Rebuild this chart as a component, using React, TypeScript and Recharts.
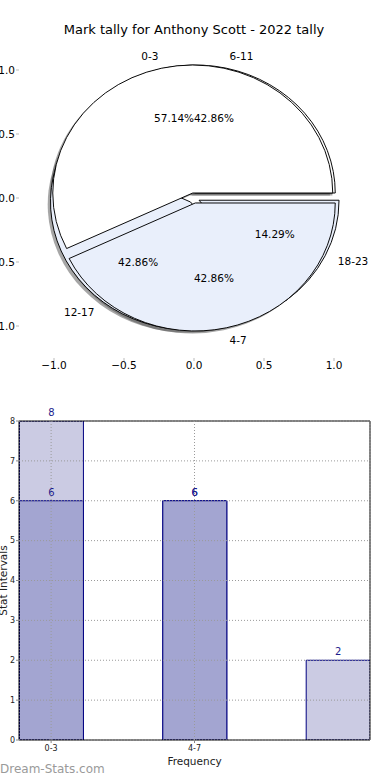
import React from "react";
import {
  PieChart,
  Pie,
  Cell,
  ScatterChart,
  Scatter,
  XAxis,
  YAxis,
  BarChart,
  Bar,
  CartesianGrid,
  LabelList,
} from "recharts";

const title = "Mark tally for Anthony Scott - 2022 tally";

// the pie drawn underneath
const lowerNames = ["6-11", "12-17", "18-23"];
const lowerValues = [3, 3, 1];
const lowerFills = ["#ffffff", "#e9effb", "#e9effb"];

// the pie drawn on top
const upperNames = ["0-3", "4-7"];
const upperValues = [4, 3];
const upperFills = ["#ffffff", "#e9effb"];

const pieTicks = [-1, -0.5, 0, 0.5, 1];

const barCategories = ["0-3", "4-7", ""];
const barTickLabels = ["0-3", "4-7"];
const backValues = [8, 6, 2];
const frontValues: (number | null)[] = [6, 6, null];
const barTicks = [0, 1, 2, 3, 4, 5, 6, 7, 8];

const CX = 194;
const CY = 198;
const R = 140;
const K = 128 / 140; // pie axes are not square
const EXPLODE = 0.04;
const SHADOW = 0.02;
const NAVY = "#000080";
const BAR_DOMAIN: [number, number] = [-0.224, 2.224];
const BAR_MARGIN = { top: 20, right: 20, bottom: 0, left: 0 };
const blank = () => "";

const fmt = (v: number) => (v < 0 ? "\u2212" : "") + Math.abs(v).toFixed(1);

function midAngles(values: number[]) {
  const total = values.reduce((a, b) => a + b, 0);
  let acc = 0;
  return values.map((v) => {
    const m = ((acc + v / 2) / total) * 2 * Math.PI;
    acc += v;
    return m;
  });
}

function wedge(
  names: string[],
  values: number[],
  fills: string[],
  i: number,
  shadow: boolean,
  key: string
) {
  const data = names.map((n, j) => ({ name: n, value: values[j] }));
  const mid = midAngles(values)[i];
  let cx = CX + EXPLODE * R * Math.cos(mid);
  let cy = CY - EXPLODE * R * Math.sin(mid);
  if (shadow) {
    cx -= SHADOW * R;
    cy += SHADOW * R;
  }
  return (
    <Pie
      key={key}
      data={data}
      dataKey="value"
      nameKey="name"
      cx={cx}
      cy={cy}
      innerRadius={0}
      outerRadius={R}
      startAngle={0}
      endAngle={360}
      label={false}
      labelLine={false}
      isAnimationActive={false}
    >
      {data.map((_, j) => (
        <Cell
          key={j}
          fill={j === i ? (shadow ? "#4d4d4d" : fills[j]) : "none"}
          fillOpacity={shadow ? 0.5 : 1}
          stroke={j === i && !shadow ? "#000" : "none"}
          strokeWidth={1}
        />
      ))}
    </Pie>
  );
}

const makeLabel = (names: string[], values: number[]) => (props: any) => {
  const { cx, cy, midAngle, outerRadius, index } = props;
  const total = values.reduce((a, b) => a + b, 0);
  const a = (midAngle * Math.PI) / 180;
  const c = Math.cos(a);
  const s = Math.sin(a);
  const lx = cx + (1.1 + EXPLODE) * outerRadius * c;
  const ly = cy - (1.1 + EXPLODE) * outerRadius * K * s;
  const px = cx + (0.6 + EXPLODE) * outerRadius * c;
  const py = cy - (0.6 + EXPLODE) * outerRadius * K * s;
  return (
    <g key={"l" + index}>
      <text
        x={lx}
        y={ly}
        textAnchor={c > 0 ? "start" : "end"}
        dominantBaseline="central"
        fontSize={10.5}
        fill="#000"
      >
        {names[index]}
      </text>
      <text
        x={px}
        y={py}
        textAnchor="middle"
        dominantBaseline="central"
        fontSize={10.5}
        fill="#000"
      >
        {((values[index] / total) * 100).toFixed(2) + "%"}
      </text>
    </g>
  );
};

const barRows = barCategories.map((name, i) => ({
  x: i,
  name,
  back: backValues[i],
  front: frontValues[i],
}));

export default function App() {
  const shadows = [
    ...lowerValues.map((_, i) =>
      wedge(lowerNames, lowerValues, lowerFills, i, true, "sl" + i)
    ),
    ...upperValues.map((_, i) =>
      wedge(upperNames, upperValues, upperFills, i, true, "su" + i)
    ),
  ];
  const wedges = [
    ...lowerValues.map((_, i) =>
      wedge(lowerNames, lowerValues, lowerFills, i, false, "wl" + i)
    ),
    ...upperValues.map((_, i) =>
      wedge(upperNames, upperValues, upperFills, i, false, "wu" + i)
    ),
  ];

  return (
    <div
      style={{
        position: "absolute",
        left: 0,
        top: 0,
        width: 390,
        height: 780,
        background: "#fff",
        fontFamily: "'DejaVu Sans', sans-serif",
        overflow: "hidden",
      }}
    >
      <div
        style={{
          position: "absolute",
          top: 22,
          left: 0,
          width: 388,
          textAlign: "center",
          fontSize: 13,
          lineHeight: "15px",
          color: "#000",
        }}
      >
        {title}
      </div>

      {/* pie axes */}
      <div style={{ position: "absolute", left: 0, top: 0 }}>
        <ScatterChart
          width={390}
          height={400}
          margin={{ top: 38, right: 21, bottom: 0, left: 0 }}
        >
          <XAxis
            xAxisId="xb"
            type="number"
            dataKey="x"
            domain={[-1.25, 1.25]}
            ticks={pieTicks}
            interval={0}
            allowDataOverflow
            orientation="bottom"
            height={42}
            axisLine={false}
            tickSize={3}
            tickMargin={1}
            tickLine={{ stroke: "#bbb" }}
            tick={{ fontSize: 10.5, fill: "#000" }}
            tickFormatter={fmt}
          />
          <XAxis
            xAxisId="xt"
            type="number"
            domain={[-1.25, 1.25]}
            ticks={pieTicks}
            interval={0}
            allowDataOverflow
            orientation="top"
            height={1}
            mirror
            axisLine={false}
            tick={false}
            tickSize={3}
            tickLine={{ stroke: "#bbb" }}
          />
          <YAxis
            yAxisId="yl"
            type="number"
            dataKey="y"
            domain={[-1.25, 1.25]}
            ticks={pieTicks}
            interval={0}
            allowDataOverflow
            orientation="left"
            width={19}
            axisLine={false}
            tickSize={3}
            tickMargin={1}
            tickLine={{ stroke: "#bbb" }}
            tick={{ fontSize: 10.5, fill: "#000" }}
            tickFormatter={fmt}
          />
          <YAxis
            yAxisId="yr"
            type="number"
            domain={[-1.25, 1.25]}
            ticks={pieTicks}
            interval={0}
            allowDataOverflow
            orientation="right"
            width={1}
            mirror
            axisLine={false}
            tick={false}
            tickSize={3}
            tickLine={{ stroke: "#bbb" }}
          />
          <Scatter xAxisId="xb" yAxisId="yl" data={[]} isAnimationActive={false} />
        </ScatterChart>
      </div>

      {/* pie wedges, squashed to the axes' aspect */}
      <div
        style={{
          position: "absolute",
          left: 0,
          top: 0,
          transform: `scaleY(${K})`,
          transformOrigin: `${CX}px ${CY}px`,
        }}
      >
        <PieChart width={390} height={400} margin={{ top: 0, right: 0, bottom: 0, left: 0 }}>
          {shadows}
          {wedges}
        </PieChart>
      </div>

      {/* pie labels */}
      <div style={{ position: "absolute", left: 0, top: 0 }}>
        <PieChart width={390} height={400} margin={{ top: 0, right: 0, bottom: 0, left: 0 }}>
          <Pie
            data={lowerNames.map((n, i) => ({ name: n, value: lowerValues[i] }))}
            dataKey="value"
            nameKey="name"
            cx={CX}
            cy={CY}
            outerRadius={R}
            startAngle={0}
            endAngle={360}
            fill="none"
            stroke="none"
            labelLine={false}
            label={makeLabel(lowerNames, lowerValues)}
            isAnimationActive={false}
          />
          <Pie
            data={upperNames.map((n, i) => ({ name: n, value: upperValues[i] }))}
            dataKey="value"
            nameKey="name"
            cx={CX}
            cy={CY}
            outerRadius={R}
            startAngle={0}
            endAngle={360}
            fill="none"
            stroke="none"
            labelLine={false}
            label={makeLabel(upperNames, upperValues)}
            isAnimationActive={false}
          />
        </PieChart>
      </div>

      {/* bar chart */}
      <div style={{ position: "absolute", left: 0, top: 400 }}>
        <BarChart width={390} height={380} data={barRows} margin={BAR_MARGIN}>
          <XAxis
            xAxisId="a"
            type="number"
            dataKey="x"
            domain={BAR_DOMAIN}
            allowDataOverflow
            ticks={barTickLabels.map((_, i) => i)}
            interval={0}
            tickFormatter={(i: number) => barTickLabels[i]}
            height={40}
            axisLine={{ stroke: "#000" }}
            tickSize={3}
            tickMargin={2}
            tickLine={{ stroke: "#888" }}
            tick={{ fontSize: 8, fill: "#222" }}
            label={{
              value: "Frequency",
              position: "insideBottom",
              offset: 15,
              fontSize: 10.5,
              fill: "#222",
            }}
          />
          <XAxis
            xAxisId="b"
            type="number"
            dataKey="x"
            domain={BAR_DOMAIN}
            allowDataOverflow
            orientation="top"
            height={1}
            tick={false}
            tickLine={false}
            axisLine={{ stroke: "#000" }}
          />
          <YAxis
            yAxisId="l"
            type="number"
            domain={[0, 8]}
            ticks={barTicks}
            interval={0}
            allowDataOverflow
            width={19}
            axisLine={{ stroke: "#000" }}
            tickSize={3}
            tickMargin={1}
            tickLine={{ stroke: "#888" }}
            tick={{ fontSize: 8, fill: "#222" }}
            label={{
              value: "Stat Intervals",
              angle: -90,
              position: "center",
              dx: -6,
              fontSize: 10.5,
              fill: "#222",
            }}
          />
          <YAxis
            yAxisId="r"
            type="number"
            orientation="right"
            domain={[0, 8]}
            ticks={barTicks}
            interval={0}
            allowDataOverflow
            width={1}
            mirror
            tick={false}
            tickSize={3}
            tickLine={{ stroke: "#999" }}
            axisLine={{ stroke: "#000" }}
          />
          <Bar
            xAxisId="b"
            yAxisId="l"
            dataKey="back"
            barSize={64}
            fill="#cbcbe3"
            stroke={NAVY}
            strokeWidth={1}
            isAnimationActive={false}
          >
            <LabelList dataKey="back" position="top" fill="#1c1c8c" fontSize={10} />
          </Bar>
          <Bar
            xAxisId="a"
            yAxisId="l"
            dataKey="front"
            barSize={64}
            fill="#a3a5d1"
            stroke={NAVY}
            strokeWidth={1}
            isAnimationActive={false}
          >
            <LabelList dataKey="front" position="top" fill="#1c1c8c" fontSize={10} />
          </Bar>
        </BarChart>
      </div>

      {/* dotted grid drawn over the bars */}
      <div
        style={{ position: "absolute", left: 0, top: 400, pointerEvents: "none" }}
      >
        <BarChart width={390} height={380} data={barRows} margin={BAR_MARGIN}>
          <CartesianGrid
            xAxisId="a"
            yAxisId="l"
            stroke="#9a9a9a"
            strokeDasharray="1 2"
          />
          <XAxis
            xAxisId="a"
            type="number"
            dataKey="x"
            domain={BAR_DOMAIN}
            allowDataOverflow
            ticks={barTickLabels.map((_, i) => i)}
            interval={0}
            height={40}
            axisLine={false}
            tickLine={false}
            tickFormatter={blank}
          />
          <XAxis
            xAxisId="b"
            type="number"
            dataKey="x"
            domain={BAR_DOMAIN}
            allowDataOverflow
            orientation="top"
            height={1}
            axisLine={false}
            tickLine={false}
            tick={false}
          />
          <YAxis
            yAxisId="l"
            type="number"
            domain={[0, 8]}
            ticks={barTicks.slice(1, -1)}
            interval={0}
            allowDataOverflow
            width={19}
            axisLine={false}
            tickLine={false}
            tickFormatter={blank}
          />
          <Bar
            xAxisId="a"
            yAxisId="l"
            dataKey="back"
            barSize={64}
            fill="none"
            stroke="none"
            isAnimationActive={false}
          />
        </BarChart>
      </div>

      <div
        style={{
          position: "absolute",
          left: 0,
          top: 762,
          fontSize: 12,
          lineHeight: "15px",
          color: "#9a9a9a",
        }}
      >
        Dream-Stats.com
      </div>
    </div>
  );
}
